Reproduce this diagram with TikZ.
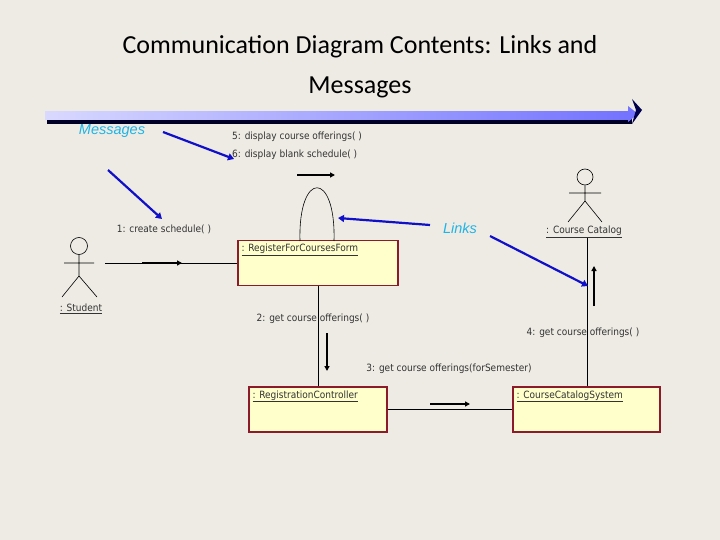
\documentclass[tikz,border=0pt]{standalone}
\usepackage{fontspec}
\setmainfont{Carlito}
\newfontfamily\tah{DejaVu Sans Condensed}
\newfontfamily\ari{Liberation Sans}
\usetikzlibrary{arrows.meta,shapes.geometric}
\definecolor{bg}{HTML}{EEEBE4}
\definecolor{cy}{HTML}{1EB4E6}
\definecolor{bl}{HTML}{1010C8}
\definecolor{bx}{HTML}{FFFFCC}
\definecolor{bd}{HTML}{8B1A2B}
\begin{document}
\begin{tikzpicture}[x=1pt,y=-1pt,
  lbl/.style={font=\tah\fontsize{10}{12}\selectfont,text=black!80,inner sep=0},
  callout/.style={font=\ari\itshape\fontsize{14.5}{16}\selectfont,text=cy,inner sep=0},
  blarrow/.style={draw=bl,line width=2.2pt,-{Triangle[length=6pt,width=7pt]}},
  msg/.style={draw=black,line width=1.3pt,-{Triangle[length=5pt,width=5pt]}},
  obj/.style={draw=bd,line width=1.3pt,fill=bx,minimum width=#1,minimum height=45pt,inner sep=0},
  link/.style={draw=black,line width=0.6pt},
  act/.style={draw=black,line width=0.6pt}]
\fill[bg] (0,0) rectangle (720,540);
\useasboundingbox (0,0) rectangle (720,540);
\node[font=\fontsize{26}{40}\selectfont,align=center] (title) at (360,67) {Communication Diagram Contents: Links and\\Messages};
% banner
\fill[black!75!blue!60!black] (47,119) -- (632,119) -- (632,124) -- (47,124) -- cycle;
\shade[left color=blue!15!white,right color=blue!55!white] (45,112) rectangle (628,120);
\fill[blue!55!white] (628,106) -- (638,114) -- (628,122) -- cycle;
\fill[black!70!blue] (632,99) -- (642,110) -- (632,124) -- (636,110) -- cycle;
% callouts
\node[callout] (msgs) at (112,131) {Messages};
\node[callout] (links) at (460,228) {Links};
\node[lbl,anchor=west] (m5) at (232,137) {5: display course offerings( )};
\node[lbl,anchor=west] (m6) at (232,155) {6: display blank schedule( )};
\node[lbl] (m1) at (164,229) {1: create schedule( )};
\node[lbl] (m2) at (313,319) {2: get course offerings( )};
\node[lbl] (m3) at (449,369) {3: get course offerings(forSemester)};
\node[lbl] (m4) at (583,333) {4: get course offerings( )};
% objects
\node[obj=160pt] (reg) at (318,263) {};
\node[lbl,anchor=north west] (regl) at ([xshift=4pt,yshift=-4pt]reg.north west) {\underline{: RegisterForCoursesForm}};
\node[obj=138pt] (ctl) at (318,409.5) {};
\node[lbl,anchor=north west] (ctll) at ([xshift=4pt,yshift=-4pt]ctl.north west) {\underline{: RegistrationController}};
\node[obj=147pt] (sys) at (586.5,409.5) {};
\node[lbl,anchor=north west] (sysl) at ([xshift=4pt,yshift=-4pt]sys.north west) {\underline{: CourseCatalogSystem}};
% actors
\node[draw,circle,minimum size=17pt,inner sep=0,line width=0.6pt] (sh) at (79,246) {};
\draw[act] (sh.south) -- (79,276) (64,263) -- (94,263) (62,297) -- (79,276) -- (97,297);
\node[lbl] (st) at (81,309) {\underline{: Student}};
\node[draw,circle,minimum size=16pt,inner sep=0,line width=0.6pt] (ch) at (585,177) {};
\draw[act] (ch.south) -- (585,201) (569,193) -- (601,193) (568,222) -- (585,201) -- (602,222);
\node[lbl] (cc) at (584,232) {\underline{: Course Catalog}};
% links
\coordinate (sa) at (105,263);
\draw[link] (sa) -- (reg.west);
\draw[link] (reg.south) -- (ctl.north);
\draw[link] (ctl.east) -- (sys.west);
\draw[link] (cc.south -| 587,0) -- (sys.north -| 587,0);
\draw[link] (300,241) .. controls (298,170) and (336,170) .. (334,241);
% message arrows
\coordinate (a1) at (142,263); \coordinate (b1) at (182,263);
\draw[msg] (a1) -- (b1);
\coordinate (a5) at (297,175); \coordinate (b5) at (335,175);
\draw[msg] (a5) -- (b5);
\coordinate (a2) at (327,333); \coordinate (b2) at (327,371);
\draw[msg] (a2) -- (b2);
\coordinate (a3) at (430,404); \coordinate (b3) at (470,404);
\draw[msg] (a3) -- (b3);
\coordinate (a4) at (594,306); \coordinate (b4) at (594,266);
\draw[msg] (a4) -- (b4);
% callout arrows
\coordinate (s1) at (163,132); \coordinate (t1) at (234,159);
\coordinate (s2) at (108,170); \coordinate (t2) at (162,219);
\coordinate (s3) at (430,225); \coordinate (t3) at (338,218);
\coordinate (s4) at (490,236); \coordinate (t4) at (588,286);
\draw[blarrow] (s1) -- (t1);
\draw[blarrow] (s2) -- (t2);
\draw[blarrow] (s3) -- (t3);
\draw[blarrow] (s4) -- (t4);
\end{tikzpicture}
\end{document}
